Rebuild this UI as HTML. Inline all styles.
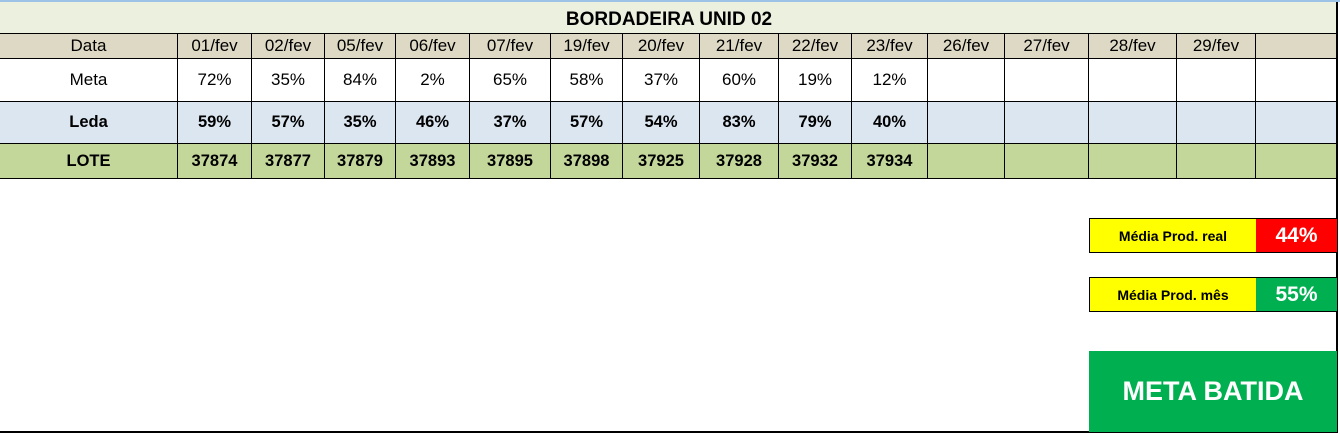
<!DOCTYPE html>
<html><head><meta charset="utf-8"><style>
body{margin:0;width:1340px;height:434px;position:relative;background:#fff;overflow:hidden;font-family:"Liberation Sans",sans-serif}
.a{position:absolute;box-sizing:border-box}
.c{position:absolute;box-sizing:border-box;display:flex;align-items:center;justify-content:center;border-right:1px solid #000;font-size:17px;color:#000}
.b{font-weight:bold;font-size:16.5px}
</style></head><body>
<div class="a" style="left:0;top:0;width:1340px;height:2px;background:#9DC3E6"></div>
<div class="a" style="left:0;top:2px;width:1338px;height:31px;background:#EBF1DE;display:flex;align-items:center;justify-content:center;font-weight:bold;font-size:19px;padding-top:4px">BORDADEIRA UNID 02</div>
<div id="tbl"></div>
<div class="a" style="left:1336px;top:2px;width:2px;height:431px;background:#000"></div>
<div class="a" style="left:0;top:431px;width:1338px;height:2px;background:#000"></div>

<div class="a" style="left:1089px;top:218px;width:168px;height:35px;background:#FFFF00;border:1px solid #000;display:flex;align-items:center;justify-content:center;font-size:14px;font-weight:bold">Média Prod. real</div>
<div class="a" style="left:1256px;top:218px;width:82px;height:35px;background:#FF0000;border:1px solid #000;border-left:none;display:flex;align-items:center;justify-content:center;font-size:21px;font-weight:bold;color:#fff">44%</div>
<div class="a" style="left:1089px;top:277px;width:168px;height:35px;background:#FFFF00;border:1px solid #000;display:flex;align-items:center;justify-content:center;font-size:14px;font-weight:bold">Média Prod. mês</div>
<div class="a" style="left:1256px;top:277px;width:82px;height:35px;background:#00B050;border:1px solid #000;border-left:none;display:flex;align-items:center;justify-content:center;font-size:21px;font-weight:bold;color:#fff">55%</div>
<div class="a" style="left:1089px;top:351px;width:248px;height:81px;background:#00B050;display:flex;align-items:center;justify-content:center;font-size:27px;font-weight:bold;color:#fff">META BATIDA</div>

<script>
const dates=["01/fev","02/fev","05/fev","06/fev","07/fev","19/fev","20/fev","21/fev","22/fev","23/fev","26/fev","27/fev","28/fev","29/fev",""];
const meta=["72%","35%","84%","2%","65%","58%","37%","60%","19%","12%","","","","",""];
const leda=["59%","57%","35%","46%","37%","57%","54%","83%","79%","40%","","","","",""];
const lote=["37874","37877","37879","37893","37895","37898","37925","37928","37932","37934","","","","",""];
const xs=[0,178,252,325,396,470,551,623,700,779,852,928,1005,1089,1177,1256,1337];
const rows=[
 {label:"Data",vals:dates,top:33,h:26,bg:"#DDD9C4",bold:false,name:"header-row"},
 {label:"Meta",vals:meta,top:58,h:44,bg:"#FFFFFF",bold:false,name:"meta-row"},
 {label:"Leda",vals:leda,top:101,h:43,bg:"#DCE6F1",bold:true,name:"leda-row"},
 {label:"LOTE",vals:lote,top:143,h:36,bg:"#C4D79B",bold:true,name:"lote-row"}];
const tbl=document.getElementById('tbl');
rows.forEach(r=>{
 const row=document.createElement('div');
 row.className='a';
 row.style.cssText=`left:0;top:${r.top}px;width:1337px;height:${r.h}px;background:${r.bg};border-top:1px solid #000;border-bottom:1px solid #000`;
 
 
 tbl.appendChild(row);
 const cells=[r.label].concat(r.vals);
 cells.forEach((t,i)=>{
  const c=document.createElement('div');
  c.className='c'+(r.bold?' b':'');
  c.style.left=xs[i]+'px';c.style.top='0px';c.style.width=(xs[i+1]-xs[i])+'px';c.style.height='100%';
  c.textContent=t;
  
  
  row.appendChild(c);
 });
});
</script>
</body></html>
